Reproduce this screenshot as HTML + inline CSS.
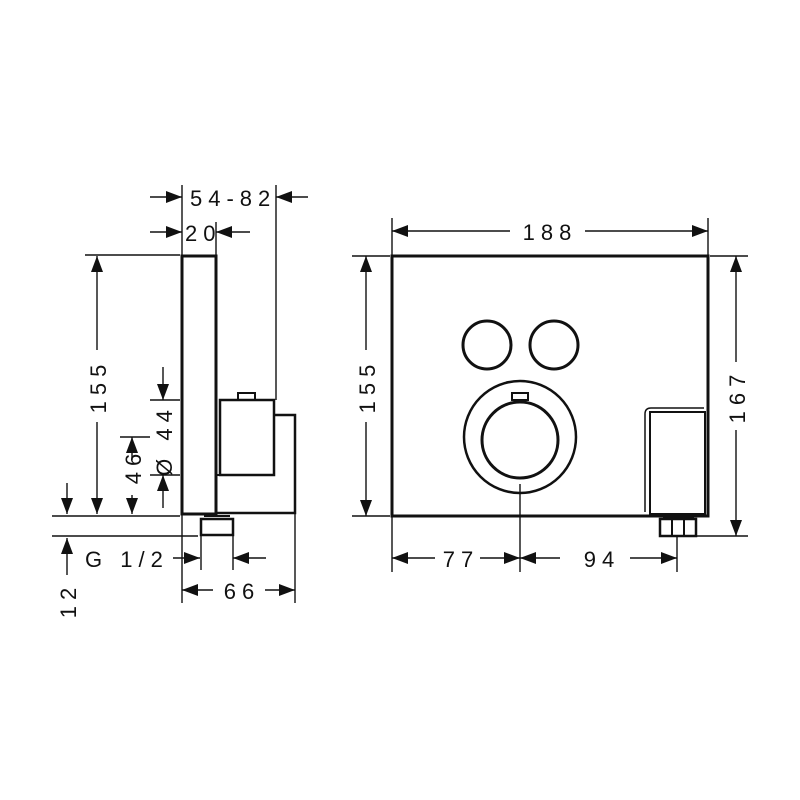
<!DOCTYPE html>
<html><head><meta charset="utf-8"><style>
html,body{margin:0;padding:0;background:#fff;}
svg{display:block;}
text{font-family:"Liberation Sans",sans-serif;font-size:22px;fill:#111;letter-spacing:6px;}
</style></head><body>
<svg width="800" height="800" viewBox="0 0 800 800" xmlns="http://www.w3.org/2000/svg">
<defs>
<marker id="b" viewBox="0 0 16 12" refX="16" refY="6" markerWidth="16" markerHeight="12" markerUnits="userSpaceOnUse" orient="auto-start-reverse"><path d="M0,0 L16,6 L0,12 Z" fill="#111"/></marker>
</defs>
<g stroke="#111" fill="none">
<rect x="182" y="256" width="34" height="258" stroke-width="3"/>
<rect x="220" y="400" width="54" height="75" stroke-width="2.5"/>
<rect x="238" y="393" width="17" height="7" stroke-width="2"/>
<path d="M217,513 L295,513 L295,415 L275,415" stroke-width="2.5"/>
<path d="M217,475 L220,475" stroke-width="2"/>
<rect x="201" y="519" width="32" height="16" stroke-width="2.5"/>
<line x1="204" y1="516" x2="230" y2="516" stroke-width="2"/>
<g stroke-width="1.4">
<line x1="182" y1="185" x2="182" y2="256"/>
<line x1="276" y1="185" x2="276" y2="400"/>
<line x1="216" y1="222" x2="216" y2="256"/>
<line x1="85" y1="255" x2="180" y2="255"/>
<line x1="150" y1="400" x2="180" y2="400"/>
<line x1="150" y1="475" x2="180" y2="475"/>
<line x1="120" y1="437" x2="150" y2="437"/>
<line x1="52" y1="516" x2="180" y2="516"/>
<line x1="52" y1="536" x2="198" y2="536"/>
<line x1="182" y1="514" x2="182" y2="603"/>
<line x1="295" y1="513" x2="295" y2="603"/>
<line x1="201" y1="535" x2="201" y2="570"/>
<line x1="233" y1="535" x2="233" y2="570"/>
<line x1="150" y1="197" x2="182" y2="197" marker-end="url(#b)"/>
<line x1="308" y1="197" x2="276" y2="197" marker-end="url(#b)"/>
<line x1="150" y1="232" x2="182" y2="232" marker-end="url(#b)"/>
<line x1="250" y1="232" x2="216" y2="232" marker-end="url(#b)"/>
<line x1="97" y1="350" x2="97" y2="256" marker-end="url(#b)"/>
<line x1="97" y1="422" x2="97" y2="514" marker-end="url(#b)"/>
<line x1="163" y1="367" x2="163" y2="400" marker-end="url(#b)"/>
<line x1="163" y1="508" x2="163" y2="475" marker-end="url(#b)"/>
<line x1="132" y1="460" x2="132" y2="437" marker-end="url(#b)"/>
<line x1="132" y1="495" x2="132" y2="514" marker-end="url(#b)"/>
<line x1="67" y1="483" x2="67" y2="514" marker-end="url(#b)"/>
<line x1="67" y1="575" x2="67" y2="538" marker-end="url(#b)"/>
<line x1="173" y1="558" x2="200" y2="558" marker-end="url(#b)"/>
<line x1="266" y1="558" x2="233" y2="558" marker-end="url(#b)"/>
<line x1="213" y1="590" x2="182" y2="590" marker-end="url(#b)"/>
<line x1="265" y1="590" x2="295" y2="590" marker-end="url(#b)"/>
</g>
<rect x="392" y="256" width="316" height="260" stroke-width="3"/>
<circle cx="487" cy="345" r="24" stroke-width="3"/>
<circle cx="554" cy="345" r="24" stroke-width="3"/>
<circle cx="520" cy="437" r="56" stroke-width="2.5"/>
<circle cx="520" cy="440" r="38" stroke-width="3"/>
<rect x="512" y="393" width="16" height="7" stroke-width="2"/>
<path d="M645,512 L645,414 Q645,408 651,408 L704,408" stroke-width="1.5"/>
<rect x="650" y="412" width="55" height="102" stroke-width="2"/>
<rect x="660" y="519" width="36" height="17" stroke-width="2.5"/>
<line x1="672" y1="519" x2="672" y2="536" stroke-width="2"/>
<line x1="684" y1="519" x2="684" y2="536" stroke-width="2"/>
<line x1="663" y1="517" x2="694" y2="517" stroke-width="2"/>
<g stroke-width="1.4">
<line x1="520" y1="484" x2="520" y2="572"/>
<line x1="392" y1="218" x2="392" y2="256"/>
<line x1="708" y1="218" x2="708" y2="256"/>
<line x1="352" y1="256" x2="390" y2="256"/>
<line x1="352" y1="516" x2="390" y2="516"/>
<line x1="710" y1="256" x2="748" y2="256"/>
<line x1="696" y1="536" x2="748" y2="536"/>
<line x1="392" y1="516" x2="392" y2="572"/>
<line x1="677" y1="536" x2="677" y2="572"/>
<line x1="510" y1="231" x2="392" y2="231" marker-end="url(#b)"/>
<line x1="585" y1="231" x2="708" y2="231" marker-end="url(#b)"/>
<line x1="366" y1="350" x2="366" y2="256" marker-end="url(#b)"/>
<line x1="366" y1="422" x2="366" y2="516" marker-end="url(#b)"/>
<line x1="736" y1="362" x2="736" y2="256" marker-end="url(#b)"/>
<line x1="736" y1="430" x2="736" y2="536" marker-end="url(#b)"/>
<line x1="435" y1="558" x2="392" y2="558" marker-end="url(#b)"/>
<line x1="480" y1="558" x2="520" y2="558" marker-end="url(#b)"/>
<line x1="560" y1="558" x2="520" y2="558" marker-end="url(#b)"/>
<line x1="630" y1="558" x2="677" y2="558" marker-end="url(#b)"/>
</g>
</g>
<text x="190" y="206">54-82</text>
<text x="185" y="241">20</text>
<text x="550" y="240" text-anchor="middle">188</text>
<text x="85" y="567">G 1/2</text>
<text x="242" y="599" text-anchor="middle">66</text>
<text x="461" y="567" text-anchor="middle">77</text>
<text x="602" y="567" text-anchor="middle">94</text>
<text transform="translate(106,386) rotate(-90)" text-anchor="middle">155</text>
<text transform="translate(375,386) rotate(-90)" text-anchor="middle">155</text>
<text transform="translate(745,396) rotate(-90)" text-anchor="middle">167</text>
<text transform="translate(172,440) rotate(-90)" text-anchor="middle">Ø 44</text>
<text transform="translate(141,466) rotate(-90)" text-anchor="middle">46</text>
<text transform="translate(76,600) rotate(-90)" text-anchor="middle">12</text>
</svg>
</body></html>
